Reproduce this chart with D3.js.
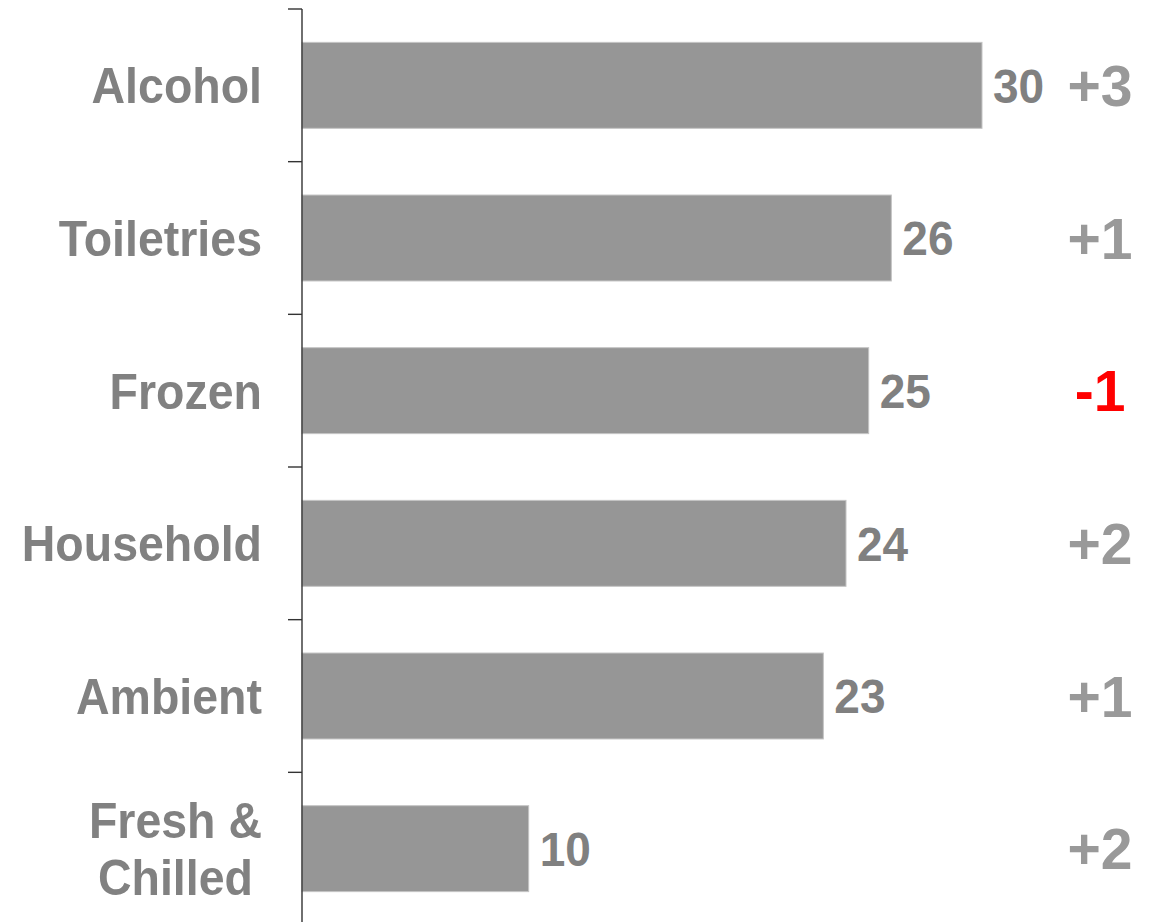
<!DOCTYPE html>
<html>
<head>
<meta charset="utf-8">
<script src="https://cdn.jsdelivr.net/npm/d3@7"></script>
<style>
  html, body { margin: 0; padding: 0; background: #fff; }
  svg { display: block; }
  text { font-family: "Liberation Sans", Arial, sans-serif; font-weight: bold; }
</style>
</head>
<body>
<svg id="chart" width="1158" height="922"></svg>
<script>
// Category share, with change versus the previous period
const categories = ["Alcohol", "Toiletries", "Frozen", "Household", "Ambient", "Fresh &\nChilled"];
const values = [30, 26, 25, 24, 23, 10];
const changes = [3, 1, -1, 2, 1, 2];

const svg = d3.select("#chart");
const axisX = 302;

const x = d3.scaleLinear().domain([0, 30]).range([axisX, 982]);
const pad = 0.437;
const y = d3.scaleBand()
  .domain(categories)
  .range([9, 925])
  .paddingInner(pad)
  .paddingOuter(pad / 2);

const step = y.step();
const mid = d => y(d) + y.bandwidth() / 2;

// Bars
svg.append("g").selectAll("rect")
  .data(categories)
  .join("rect")
  .attr("x", x(0))
  .attr("y", d => y(d))
  .attr("width", (d, i) => x(values[i]) - x(0))
  .attr("height", y.bandwidth())
  .attr("fill", "#969696")
  .attr("stroke", "#c4c4c4")
  .attr("stroke-width", 1);

// Category axis: vertical line with ticks on band boundaries
const axis = svg.append("g");
axis.append("line")
  .attr("x1", axisX).attr("x2", axisX)
  .attr("y1", 9).attr("y2", 925)
  .attr("stroke", "#333").attr("stroke-width", 1.4);
axis.selectAll("line.tick")
  .data(categories)
  .join("line")
  .attr("class", "tick")
  .attr("x1", axisX - 14).attr("x2", axisX)
  .attr("y1", d => y(d) - step * pad / 2)
  .attr("y2", d => y(d) - step * pad / 2)
  .attr("stroke", "#333").attr("stroke-width", 1.4);

// Category labels (multi-line labels are centred within a right-aligned block)
const labelRight = 262;
const lineGap = 57;
const stretch = 1.07;
categories.forEach(cat => {
  const lines = cat.split("\n");
  const g = svg.append("g");
  const texts = lines.map((ln, j) => {
    const ty = mid(cat) + (j - (lines.length - 1) / 2) * lineGap;
    return g.append("text")
      .attr("transform", `translate(0,${ty}) scale(1,${stretch})`)
      .attr("dy", "0.36em")
      .attr("font-size", 46.5)
      .attr("fill", "#818181")
      .text(ln);
  });
  if (lines.length === 1) {
    texts[0].attr("x", labelRight).attr("text-anchor", "end");
  } else {
    const w = d3.max(texts, t => t.node().getComputedTextLength());
    texts.forEach(t => t.attr("x", labelRight - w / 2).attr("text-anchor", "middle"));
  }
});

// Value labels at bar ends
svg.append("g").selectAll("text")
  .data(categories)
  .join("text")
  .attr("transform", (d, i) => `translate(${x(values[i]) + 11},${mid(d)}) scale(1,1.04)`)
  .attr("dy", "0.36em")
  .attr("font-size", 46)
  .attr("fill", "#808080")
  .text((d, i) => values[i]);

// Change labels
svg.append("g").selectAll("text")
  .data(categories)
  .join("text")
  .attr("x", 1100)
  .attr("y", d => mid(d))
  .attr("dy", "0.36em")
  .attr("text-anchor", "middle")
  .attr("font-size", 57)
  .attr("fill", (d, i) => changes[i] < 0 ? "#ff0000" : "#999999")
  .text((d, i) => (changes[i] > 0 ? "+" : "") + changes[i]);
</script>
</body>
</html>
